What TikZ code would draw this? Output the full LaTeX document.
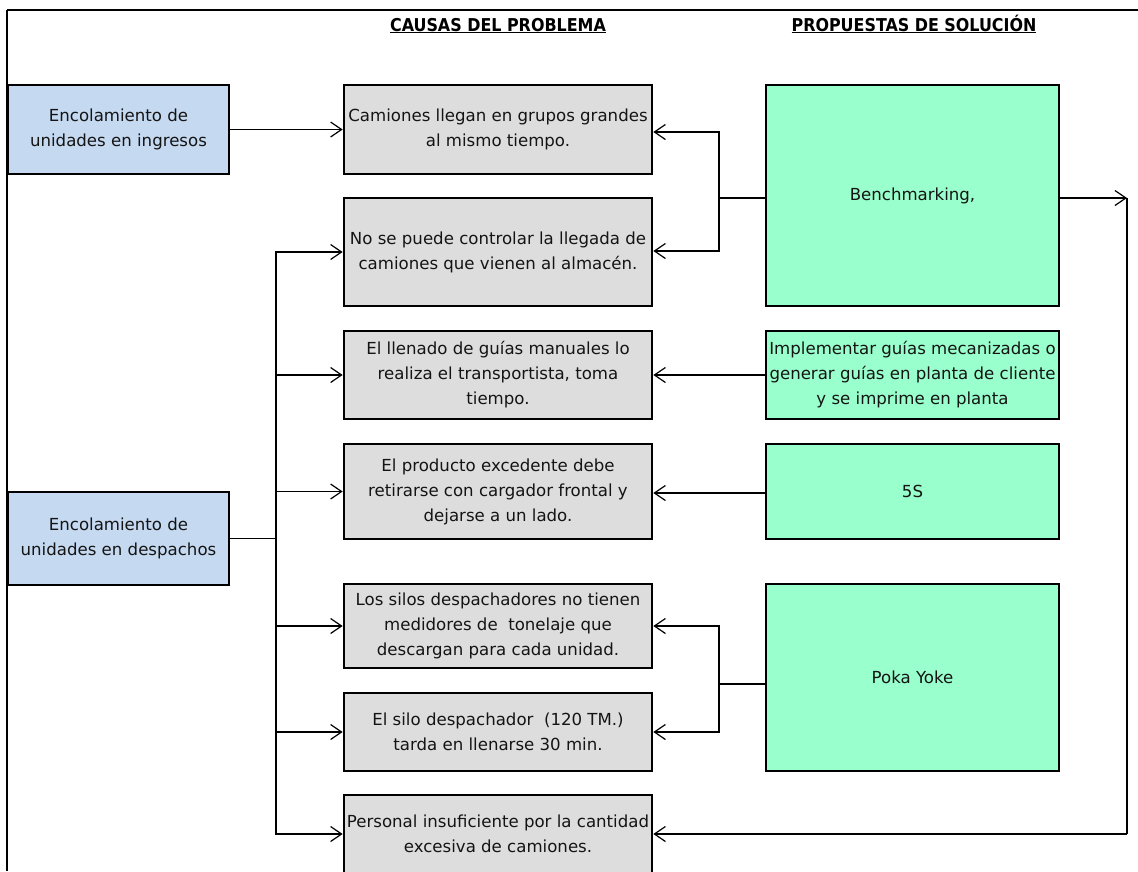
\documentclass[tikz,border=0pt]{standalone}
\usepackage{fontspec}
\setmainfont{DejaVu Sans}
\newfontfamily\headfont{DejaVu Sans Condensed}
\usetikzlibrary{arrows.meta}

\definecolor{causefill}{HTML}{DDDDDD}
\definecolor{rootfill}{HTML}{C5D9F1}
\definecolor{solfill}{HTML}{99FFCC}

\tikzset{
  box/.style={draw=black, line width=2.7pt, rectangle, inner sep=0pt,
    align=center, font=\fontsize{16.6}{25}\selectfont, text=black!92},
  rootbox/.style={box, fill=rootfill, minimum width=221pt},
  causebox/.style={box, fill=causefill, minimum width=308pt},
  solbox/.style={box, fill=solfill, minimum width=293pt},
  link/.style={draw=black, line width=1.4pt},
  arr/.style={link, -{Straight Barb[length=11pt,width=15pt,line width=1.2pt]}},
  heading/.style={font=\headfont\bfseries\fontsize{17.7}{20}\selectfont,
    inner sep=0pt, anchor=base}
}

\begin{document}
\begin{tikzpicture}[x=1pt,y=-1pt]
\clip (0,0) rectangle (1138,871);
\fill[white] (0,0) rectangle (1138,871);

% page frame (open at the bottom and right)
\draw[line width=1.8pt] (7,871) -- (7,10);
\draw[line width=2.4pt] (7,10) -- (1138,10);

% column headings
\node[heading] (hcause) at (498,31) {\underline{CAUSAS DEL PROBLEMA}};
\node[heading] (hsol) at (914,31) {\underline{PROPUESTAS DE SOLUCIÓN}};

% root problems
\node[rootbox, minimum height=89pt] (ing) at (118.5,129.5) {Encolamiento de\\unidades en ingresos};
\node[rootbox, minimum height=93pt] (des) at (118.5,538.5) {Encolamiento de\\unidades en despachos};

% causes
\node[causebox, minimum height=89pt] (c1) at (498,129.5) {Camiones llegan en grupos grandes\\al mismo tiempo.};
\node[causebox, minimum height=108pt] (c2) at (498,252) {No se puede controlar la llegada de\\camiones que vienen al almacén.};
\node[causebox, minimum height=88pt] (c3) at (498,375) {El llenado de guías manuales lo\\realiza el transportista, toma\\tiempo.};
\node[causebox, minimum height=95pt] (c4) at (498,491.5) {El producto excedente debe\\retirarse con cargador frontal y\\dejarse a un lado.};
\node[causebox, minimum height=84pt] (c5) at (498,626) {Los silos despachadores no tienen\\medidores de\ \ tonelaje que\\descargan para cada unidad.};
\node[causebox, minimum height=78pt] (c6) at (498,732) {El silo despachador\ \ (120 TM.)\\tarda en llenarse 30 min.};
\node[causebox, minimum height=78pt] (c7) at (498,834) {Personal insuficiente por la cantidad\\excesiva de camiones.};

% proposed solutions
\node[solbox, minimum height=221pt] (s1) at (912.5,195.5) {Benchmarking,};
\node[solbox, minimum height=88pt] (s2) at (912.5,375) {Implementar guías mecanizadas o\\generar guías en planta de cliente\\y se imprime en planta};
\node[solbox, minimum height=95pt] (s3) at (912.5,491.5) {5S};
\node[solbox, minimum height=187pt] (s4) at (912.5,677.5) {Poka Yoke};

% root problems to causes
\coordinate (trunk) at (276,538.5);
\draw[arr] (ing.east) -- (c1.west);
\draw[link] (des.east) -- (trunk);
\foreach \c in {c2,c3,c4,c5,c6,c7}
  \draw[arr] (trunk) |- (\c.west);

% solutions to causes
\coordinate (jb) at (719,198);
\draw[link] (s1.west |- jb) -- (jb);
\draw[arr] (jb) |- (c1.east |- 0,132);
\draw[arr] (jb) |- (c2.east |- 0,251);

\draw[arr] (s2.west) -- (c3.east);
\draw[arr] (s3.west |- 0,493) -- (c4.east |- 0,493);

\coordinate (jp) at (719,684);
\draw[link] (s4.west |- jp) -- (jp);
\draw[arr] (jp) |- (c5.east);
\draw[arr] (jp) |- (c6.east);

% benchmarking also feeds the staffing cause
\coordinate (rb) at (1127,198);
\draw[arr] (s1.east |- rb) -- (rb);
\draw[link, line width=2pt] (rb) -- (rb |- c7.east);
\draw[arr] (rb |- c7.east) -- (c7.east);
\end{tikzpicture}
\end{document}
